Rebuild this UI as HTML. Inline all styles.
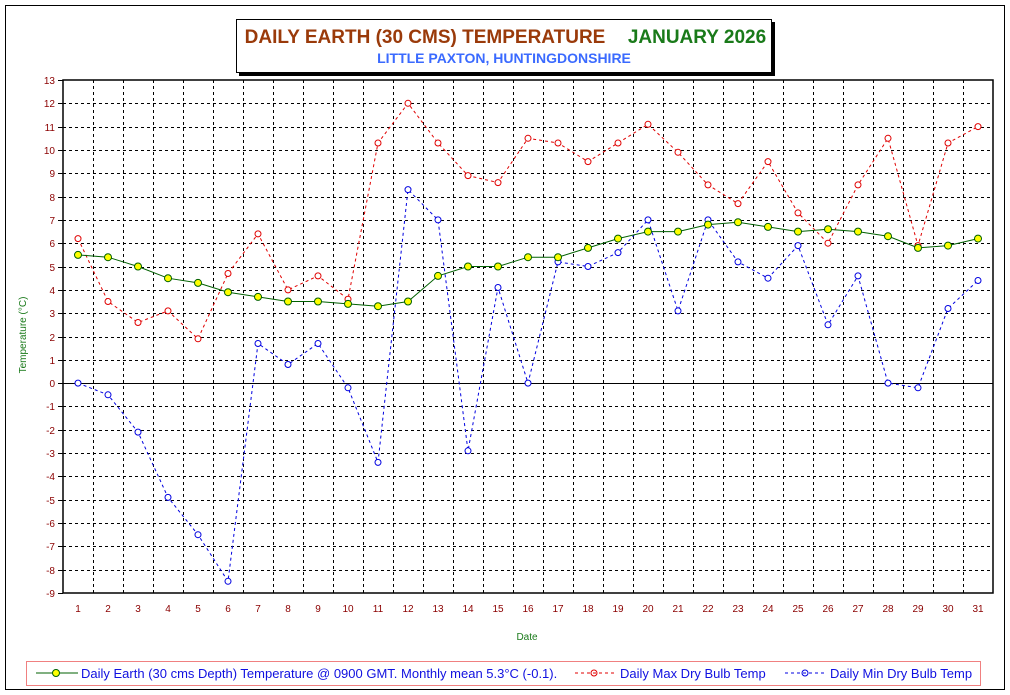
<!DOCTYPE html>
<html><head><meta charset="utf-8"><style>
body{margin:0;background:#fff;}
svg{display:block;font-family:"Liberation Sans",Arial,sans-serif;}
</style></head><body>
<svg id="s" width="1010" height="695" xmlns="http://www.w3.org/2000/svg">
<rect x="5.5" y="5.5" width="999" height="684" fill="#fff" stroke="#000" stroke-width="1"/>
<rect x="239" y="22" width="536" height="54" fill="#000"/>
<rect x="236.5" y="19.5" width="535" height="53" fill="#fff" stroke="#000"/>
<text x="425" y="43" font-size="19" font-weight="bold" fill="#9a3a0a" text-anchor="middle">DAILY EARTH (30 CMS) TEMPERATURE</text>
<text x="697" y="43" font-size="19" font-weight="bold" fill="#1a7a1a" text-anchor="middle">JANUARY 2026</text>
<text x="504" y="63" font-size="14" font-weight="bold" fill="#3a6aff" text-anchor="middle">LITTLE PAXTON, HUNTINGDONSHIRE</text>
<g id="g"></g>
<text x="26" y="335" font-size="10" fill="#1a7a1a" text-anchor="middle" transform="rotate(-90 26 335)">Temperature (°C)</text>
<text x="527" y="640" font-size="10" fill="#1a7a1a" text-anchor="middle">Date</text>
<rect x="26.5" y="661.5" width="954" height="24" fill="#fff" stroke="#f08080"/>
<line x1="36" y1="673" x2="78" y2="673" stroke="#006000"/>
<circle cx="56" cy="673" r="3.5" fill="#ffff00" stroke="#006000"/>
<text x="81" y="678" font-size="13" fill="#1010e0">Daily Earth (30 cms Depth) Temperature @ 0900 GMT. Monthly mean 5.3°C (-0.1).</text>
<line x1="575" y1="673" x2="614" y2="673" stroke="#e00000" stroke-dasharray="3,3"/>
<circle cx="594" cy="673" r="3" fill="none" stroke="#e00000"/>
<text x="620" y="678" font-size="13" fill="#1010e0">Daily Max Dry Bulb Temp</text>
<line x1="785" y1="673" x2="824" y2="673" stroke="#0000e0" stroke-dasharray="3,3"/>
<circle cx="805" cy="673" r="3" fill="none" stroke="#0000e0"/>
<text x="830" y="678" font-size="13" fill="#1010e0">Daily Min Dry Bulb Temp</text>
</svg>
<script>
var g=document.getElementById('g'),h='';
var L=63,R=993,T=80,B=593,u=(B-T)/22;
function Y(v){return T+(13-v)*u;}
function X(d){return 78+30*(d-1);}
for(var v=-9;v<=13;v++){var y=(Math.round(Y(v))+0.5);
 if(v>-9&&v<13)h+='<line x1="'+L+'" y1="'+y+'" x2="'+R+'" y2="'+y+'" stroke="#000" stroke-dasharray="'+(v==0?'0':'3,3')+'"/>';
 h+='<line x1="'+(L-5)+'" y1="'+y+'" x2="'+L+'" y2="'+y+'" stroke="#000"/>';
 h+='<text x="'+(L-8)+'" y="'+(y+3.5)+'" font-size="10" fill="#8b0000" text-anchor="end">'+v+'</text>';}
for(var i=1;i<31;i++){var x=L+30*i+0.5;h+='<line x1="'+x+'" y1="'+T+'" x2="'+x+'" y2="'+B+'" stroke="#000" stroke-dasharray="3,3"/>';}
for(var d=1;d<=31;d++)h+='<text x="'+X(d)+'" y="612" font-size="10" fill="#8b0000" text-anchor="middle">'+d+'</text>';
h+='<rect x="'+L+'" y="'+T+'" width="'+(R-L)+'" height="'+(B-T)+'" fill="none" stroke="#000" stroke-width="1.5"/>';
var E=[5.5,5.4,5.0,4.5,4.3,3.9,3.7,3.5,3.5,3.4,3.3,3.5,4.6,5.0,5.0,5.4,5.4,5.8,6.2,6.5,6.5,6.8,6.9,6.7,6.5,6.6,6.5,6.3,5.8,5.9,6.2];
var M=[6.2,3.5,2.6,3.1,1.9,4.7,6.4,4.0,4.6,3.6,10.3,12.0,10.3,8.9,8.6,10.5,10.3,9.5,10.3,11.1,9.9,8.5,7.7,9.5,7.3,6.0,8.5,10.5,5.9,10.3,11.0];
var N=[0.0,-0.5,-2.1,-4.9,-6.5,-8.5,1.7,0.8,1.7,-0.2,-3.4,8.3,7.0,-2.9,4.1,0.0,5.2,5.0,5.6,7.0,3.1,7.0,5.2,4.5,5.9,2.5,4.6,0.0,-0.2,3.2,4.4];
function ser(a,c,dash,fill,r){var p=a.map(function(v,i){return X(i+1)+','+Y(v).toFixed(1)}).join(' ');
 var s='<polyline points="'+p+'" fill="none" stroke="'+c+'" stroke-dasharray="'+dash+'"/>';
 a.forEach(function(v,i){s+='<circle cx="'+X(i+1)+'" cy="'+Y(v).toFixed(1)+'" r="'+r+'" fill="'+fill+'" stroke="'+c+'"/>'});return s;}
h+=ser(M,'#e00000','3,3','#fff',3);
h+=ser(N,'#0000e0','3,3','#fff',3);
h+=ser(E,'#006000','0','#ffff00',3.5);
g.innerHTML=h;
</script>
</body></html>
